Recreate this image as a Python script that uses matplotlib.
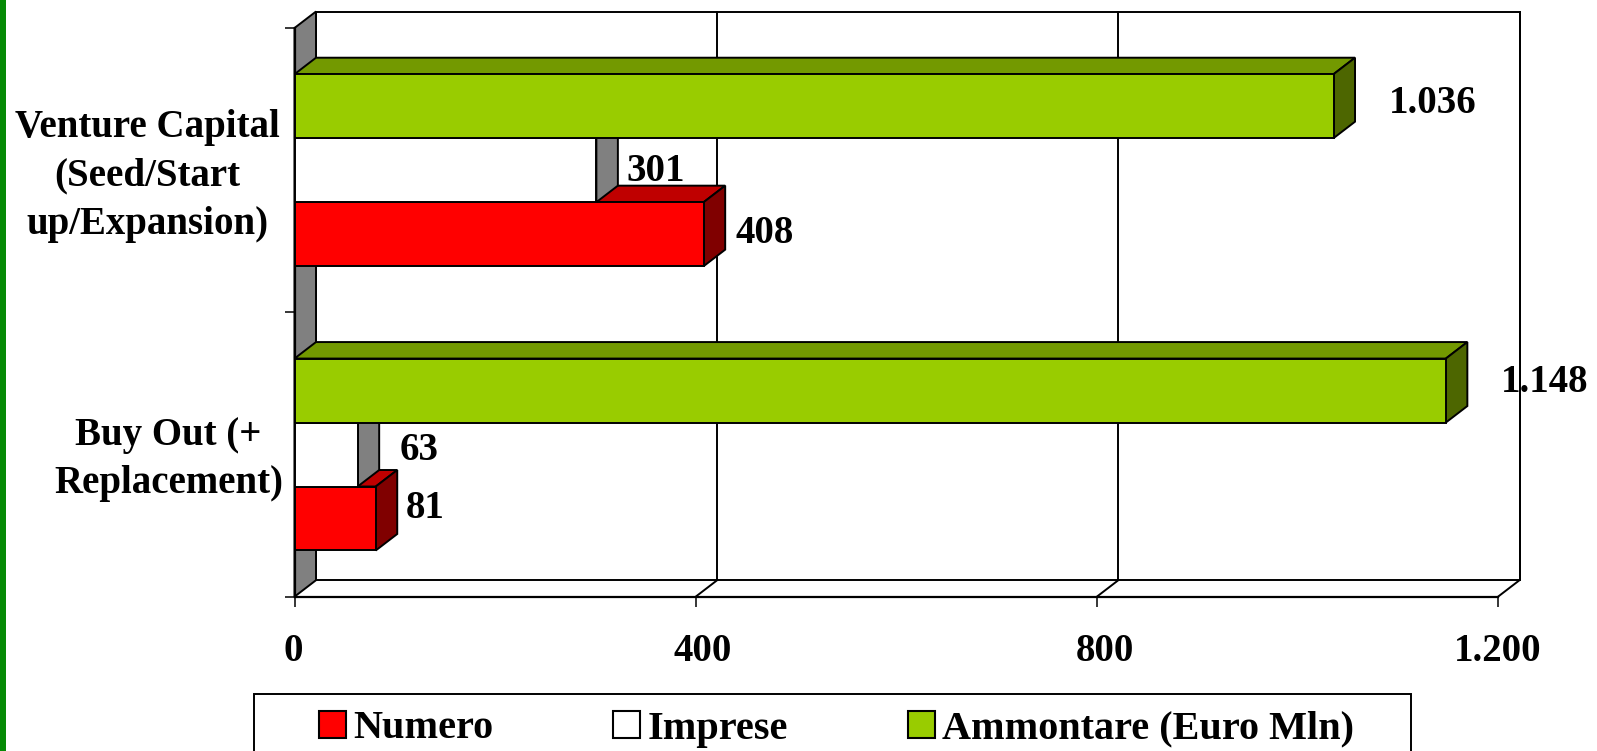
#!/usr/bin/env python3

import matplotlib
matplotlib.use("Agg")
import matplotlib.pyplot as plt
from matplotlib.patches import Patch, Polygon, Rectangle
from matplotlib.transforms import ScaledTranslation

W, H = 1597, 751

categories = ["Buy Out (+\nReplacement)", "Venture Capital\n(Seed/Start\nup/Expansion)"]
series_names = ["Numero", "Imprese", "Ammontare (Euro Mln)"]
numero = [81, 408]
imprese = [63, 301]
ammontare = [1148, 1036]
x_ticks = [0, 400, 800, 1200]

# front, top, side colours of each series
shades = [("#FF0000", "#BF0000", "#800000"),
          ("#FFFFFF", "#BFBFBF", "#808080"),
          ("#99CC00", "#739900", "#4D6600")]

plt.rcParams["font.family"] = ["Liberation Serif", "DejaVu Serif"]
plt.rcParams["font.weight"] = "bold"
plt.rcParams["font.size"] = 28

def fmt(v):
    return f"{v:,}".replace(",", ".")

fig = plt.figure(figsize=(W / 100, H / 100), dpi=100)
ax = fig.add_axes([294.5 / W, 1 - 596.7 / H, 1203.5 / W, 568.7 / H])
ax.set_xlim(0, 1200)
ax.set_ylim(0, 2)
ax.patch.set_visible(False)

# depth of the fake 3d box, in data units
dx = 21.5 * 1200 / 1203.5
dy = 16.5 * 2 / 568.7
bar_h = 0.225
lw = 1.4

# back wall, grey side wall, floor lines
ax.add_patch(Polygon([(dx, dy), (1200 + dx, dy), (1200 + dx, 2 + dy), (dx, 2 + dy)],
                     fc="white", ec="black", lw=lw, clip_on=False, zorder=1))
ax.add_patch(Polygon([(0, 0), (dx, dy), (dx, 2 + dy), (0, 2)],
                     fc="#808080", ec="black", lw=lw, clip_on=False, zorder=2))
for t in x_ticks[1:]:
    ax.plot([t + dx, t + dx], [dy, 2 + dy], color="black", lw=lw, clip_on=False, zorder=1.5)
    ax.plot([t, t + dx], [0, dy], color="black", lw=lw, clip_on=False, zorder=1.5)

# bottom bar first: each bar hides the top face of the one below it
z = 3
for c in [0, 1]:
    for values, offset, colors in [(numero, -bar_h, shades[0]),
                                   (imprese, 0, shades[1]),
                                   (ammontare, bar_h, shades[2])]:
        v = values[c]
        y0 = c + 0.5 + offset - bar_h / 2
        y1 = y0 + bar_h
        ax.add_patch(Polygon([(0, y1), (dx, y1 + dy), (v + dx, y1 + dy), (v, y1)],
                             fc=colors[1], ec="black", lw=lw, clip_on=False, zorder=z))
        ax.add_patch(Polygon([(v, y0), (v + dx, y0 + dy), (v + dx, y1 + dy), (v, y1)],
                             fc=colors[2], ec="black", lw=lw, clip_on=False, zorder=z))
        ax.barh(c + 0.5 + offset, v, height=bar_h, color=colors[0], edgecolor="black",
                linewidth=lw, zorder=z + 0.5, clip_on=False)
        z += 1

# value labels, offsets in pixels from the bar end
px = dict(textcoords="offset pixels", ha="center", va="center", zorder=20,
          annotation_clip=False)
for c, off in [(0, (99, 8)), (1, (99, 3))]:
    ax.annotate(fmt(ammontare[c]), (ammontare[c], c + 0.5 + bar_h), xytext=off, **px)
for c, off in [(0, (61, 4)), (1, (59, -1))]:
    ax.annotate(fmt(imprese[c]), (imprese[c], c + 0.5), xytext=off, **px)
for c, off in [(0, (49, 10)), (1, (61, 1))]:
    ax.annotate(fmt(numero[c]), (numero[c], c + 0.5 - bar_h), xytext=off, **px)

# axes
for s in ["top", "right"]:
    ax.spines[s].set_visible(False)
for s in ["left", "bottom"]:
    ax.spines[s].set_linewidth(1.6)
    ax.spines[s].set_zorder(2.5)
ax.set_xticks(x_ticks)
ax.set_xticklabels([fmt(t) for t in x_ticks])
ax.set_yticks([0, 1, 2])
ax.set_yticklabels([])
ax.tick_params(axis="both", length=7.5, width=1.1, color="black")
ax.tick_params(axis="x", pad=18.5)
for label, nudge in zip(ax.get_xticklabels(), [-1, 7, 8, 0]):
    label.set_transform(label.get_transform() + ScaledTranslation(nudge / 100, 0, fig.dpi_scale_trans))

# category labels
ax.annotate(categories[0], (0, 0.5), xytext=(-126, -5), linespacing=1.41, **px)
ax.annotate(categories[1], (0, 1.5), xytext=(-147, -6), linespacing=1.41, **px)

# legend, its box runs off the bottom of the picture
fig.add_artist(Rectangle((254 / W, -5 / H), 1157 / W, 62 / H, transform=fig.transFigure,
                         fc="white", ec="black", lw=1.4))
handles = [Patch(fc=s[0], ec="black", lw=1.5) for s in shades]
fig.legend(handles, series_names, ncol=3, frameon=False, loc="center left",
           bbox_to_anchor=(319 / W, 1 - 729 / H), borderpad=0, borderaxespad=0,
           fontsize=29, handlelength=0.66, handleheight=0.66, handletextpad=0.19,
           columnspacing=2.98)

# green stripe on the slide edge
fig.add_artist(Rectangle((0, 0), 6 / W, 1, transform=fig.transFigure, fc="#058A05", ec="none"))

fig.savefig("out.png", dpi=100)
